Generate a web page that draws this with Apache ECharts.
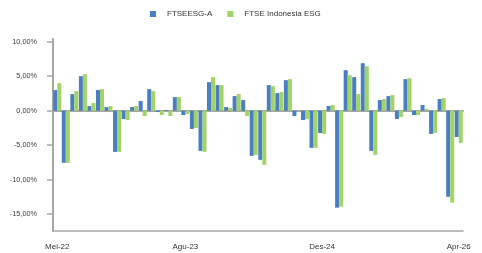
<!DOCTYPE html>
<html>
<head>
<meta charset="utf-8">
<script src="https://cdn.jsdelivr.net/npm/echarts@6/dist/echarts.min.js"></script>
<style>html,body{margin:0;padding:0;background:#fff;}#c{width:482px;height:253px;}</style>
</head>
<body>
<div id="c"></div>
<script>
const categories = ['Mei-22','Jun-22','Jul-22','Agu-22','Sep-22','Okt-22','Nov-22','Des-22',
  'Jan-23','Feb-23','Mar-23','Apr-23','Mei-23','Jun-23','Jul-23','Agu-23','Sep-23','Okt-23','Nov-23','Des-23',
  'Jan-24','Feb-24','Mar-24','Apr-24','Mei-24','Jun-24','Jul-24','Agu-24','Sep-24','Okt-24','Nov-24','Des-24',
  'Jan-25','Feb-25','Mar-25','Apr-25','Mei-25','Jun-25','Jul-25','Agu-25','Sep-25','Okt-25','Nov-25','Des-25',
  'Jan-26','Feb-26','Mar-26','Apr-26'];
const seriesNames = ['FTSEESG-A', 'FTSE Indonesia ESG'];
const ftseEsgA = [2.99,-7.56,2.41,5.01,0.67,2.99,0.53,-5.97,
  -1.20,0.53,1.40,3.13,-0.19,0.10,1.97,-0.63,-2.65,-5.83,4.14,3.71,
  0.53,2.12,1.54,-6.55,-7.13,3.71,2.55,4.43,-0.77,-1.35,-5.39,-3.23,
  0.67,-14.07,5.88,4.87,6.89,-5.83,1.54,2.12,-1.20,4.58,-0.63,0.82,
  -3.37,1.69,-12.48,-3.81];
const ftseIndonesiaEsg = [4.00,-7.56,2.84,5.30,1.11,3.13,0.67,-5.97,
  -1.35,0.67,-0.77,2.84,-0.63,-0.77,1.97,-0.48,-2.50,-5.97,4.87,3.71,
  0.39,2.41,-0.77,-6.41,-7.85,3.56,2.70,4.58,-0.05,-1.20,-5.39,-3.37,
  0.82,-13.92,5.15,2.41,6.45,-6.41,1.69,2.26,-0.92,4.72,-0.63,0.24,
  -3.23,1.83,-13.34,-4.67];
const tickLabels = ['Mei-22','Agu-23','Des-24','Apr-26'];
const yTicks = [-15,-10,-5,0,5,10];

const chart = echarts.init(document.getElementById('c'), null, {renderer:'canvas'});
const gray = '#a6a6a6';
const showIdx = (i) => tickLabels.indexOf(categories[i]) >= 0;
chart.setOption({
  animation: false,
  color: ['#4a7ec1', '#a0d468'],
  legend: {
    top: 5, left: 145,
    icon: 'rect', itemWidth: 6, itemHeight: 6, itemGap: 15,
    textStyle: {fontFamily: 'Liberation Sans, Arial', fontSize: 8, color: '#333', padding: [0,0,0,6]},
    data: seriesNames
  },
  grid: {left: 53, right: 19, top: 39, bottom: 22, containLabel: false},
  xAxis: [{
    type: 'category', data: categories,
    axisLine: {onZero: true, lineStyle: {color: gray, width: 2}},
    axisTick: {show: false}, axisLabel: {show: false}, splitLine: {show: false}
  }, {
    type: 'category', data: categories, position: 'bottom',
    axisLine: {onZero: false, lineStyle: {color: gray, width: 1.5}},
    axisTick: {alignWithLabel: true, interval: (i) => showIdx(i), length: 5, lineStyle: {color: gray, width: 1.5}},
    axisLabel: {interval: (i) => showIdx(i), fontFamily: 'Liberation Sans, Arial', fontSize: 8, color: '#333', margin: 12},
    splitLine: {show: false}
  }],
  yAxis: {
    type: 'value', min: -17.45, max: 10.4,
    axisLine: {show: true, lineStyle: {color: gray, width: 2}},
    axisTick: {show: true, customValues: yTicks, length: 6, lineStyle: {color: gray, width: 1.5}},
    axisLabel: {customValues: yTicks, margin: 16, fontFamily: 'Liberation Sans, Arial', fontSize: 7.3, color: '#404040',
      formatter: (v) => v.toFixed(2).replace('.', ',') + '%'},
    splitLine: {show: false}
  },
  series: [
    {name: seriesNames[0], type: 'bar', xAxisIndex: 0, data: ftseEsgA, barGap: '0%', barCategoryGap: '6%'},
    {name: seriesNames[1], type: 'bar', xAxisIndex: 0, data: ftseIndonesiaEsg, barGap: '0%', barCategoryGap: '6%'}
  ]
});
</script>
</body>
</html>
